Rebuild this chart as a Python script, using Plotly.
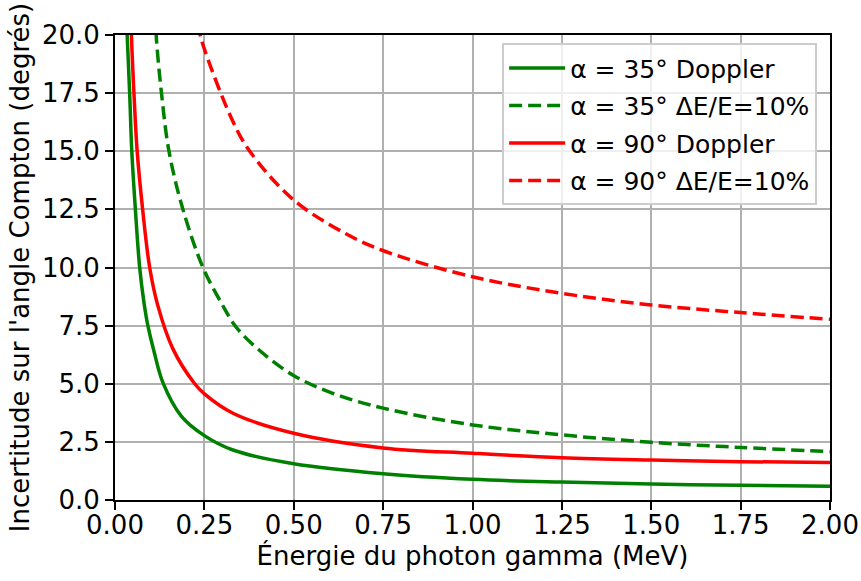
import plotly.graph_objects as go

# 35° Doppler
e_35_dop = [0.031, 0.034, 0.041, 0.047, 0.057, 0.069, 0.081, 0.092, 0.109, 0.134, 0.186, 0.25, 0.33, 0.5, 0.75, 1.0, 1.25, 1.5, 1.75, 2.0]
u_35_dop = [22.0, 20.0, 17.5, 15.0, 12.5, 10.0, 8.5, 7.5, 6.4, 5.05, 3.6, 2.77, 2.15, 1.56, 1.13, 0.89, 0.77, 0.69, 0.63, 0.59]

# 35° dE/E = 10%
e_35_res = [0.112, 0.116, 0.13, 0.151, 0.19, 0.246, 0.298, 0.338, 0.403, 0.497, 0.609, 0.75, 1.0, 1.25, 1.5, 1.75, 2.0]
u_35_res = [21.0, 19.8, 17.5, 15.0, 12.5, 10.0, 8.46, 7.45, 6.45, 5.38, 4.59, 3.95, 3.23, 2.80, 2.48, 2.26, 2.08]

# 90° Doppler
e_90_dop = [0.044, 0.046, 0.053, 0.062, 0.078, 0.097, 0.12, 0.162, 0.223, 0.251, 0.33, 0.5, 0.75, 1.0, 1.25, 1.5, 1.75, 2.0]
u_90_dop = [22.0, 20.0, 17.5, 15.0, 12.4, 10.0, 8.35, 6.5, 5.0, 4.55, 3.73, 2.87, 2.24, 2.01, 1.82, 1.72, 1.65, 1.61]

# 90° dE/E = 10%
e_90_res = [0.232, 0.242, 0.328, 0.377, 0.5, 0.646, 0.751, 1.0, 1.25, 1.5, 1.75, 2.0]
u_90_res = [20.5, 19.78, 16.34, 15.0, 12.9, 11.45, 10.72, 9.6, 8.89, 8.39, 8.06, 7.77]

series_names = ["α = 35° Doppler", "α = 35° ΔE/E=10%", "α = 90° Doppler", "α = 90° ΔE/E=10%"]
x_ticks = [0.0, 0.25, 0.5, 0.75, 1.0, 1.25, 1.5, 1.75, 2.0]
y_ticks = [0.0, 2.5, 5.0, 7.5, 10.0, 12.5, 15.0, 17.5, 20.0]

GREEN = "#008000"
RED = "#ff0000"
DASH = "13px,6px"
FS = 26

fig = go.Figure()
specs = [
    (e_35_dop, u_35_dop, GREEN, "solid"),
    (e_35_res, u_35_res, GREEN, DASH),
    (e_90_dop, u_90_dop, RED, "solid"),
    (e_90_res, u_90_res, RED, DASH),
]
for i, ((xs, ys, col, dash), name) in enumerate(zip(specs, series_names)):
    fig.add_trace(go.Scatter(
        x=xs, y=ys, mode="lines", name=name, legendgroup=f"g{i}",
        line=dict(color=col, width=3.5, dash=dash, shape="spline", smoothing=1.0),
    ))

axis_common = dict(
    showline=True, linecolor="black", linewidth=2, mirror=True,
    ticks="outside", ticklen=8, tickwidth=2, tickcolor="black",
    showgrid=True, gridcolor="#b0b0b0", gridwidth=2, zeroline=False,
    tickfont=dict(size=FS, color="black"), automargin=False,
)

fig.update_layout(
    width=861, height=581,
    margin=dict(l=115, r=31, t=35, b=81),
    plot_bgcolor="white", paper_bgcolor="white",
    font=dict(family="DejaVu Sans", size=FS, color="black"),
    xaxis=dict(range=[0, 2], tickvals=x_ticks, tickformat=".2f", ticklabelstandoff=-7,
               title=dict(text="Énergie du photon gamma (MeV)", font=dict(size=FS), standoff=4),
               **axis_common),
    yaxis=dict(range=[0, 20], tickvals=y_ticks, tickformat=".1f",
               title=dict(text="Incertitude sur l'angle Compton (degrés)", font=dict(size=FS), standoff=5),
               **axis_common),
    legend=dict(x=0.982, y=0.982, xanchor="right", yanchor="top",
                bgcolor="rgba(255,255,255,0.8)", bordercolor="#cccccc", borderwidth=2,
                font=dict(size=25), traceorder="grouped", tracegroupgap=2, itemwidth=56,
                entrywidth=325, entrywidthmode="pixels"),
    showlegend=True,
)

fig.write_html("out.html", config={"displayModeBar": False},
               post_script="document.body.style.margin='0';")
